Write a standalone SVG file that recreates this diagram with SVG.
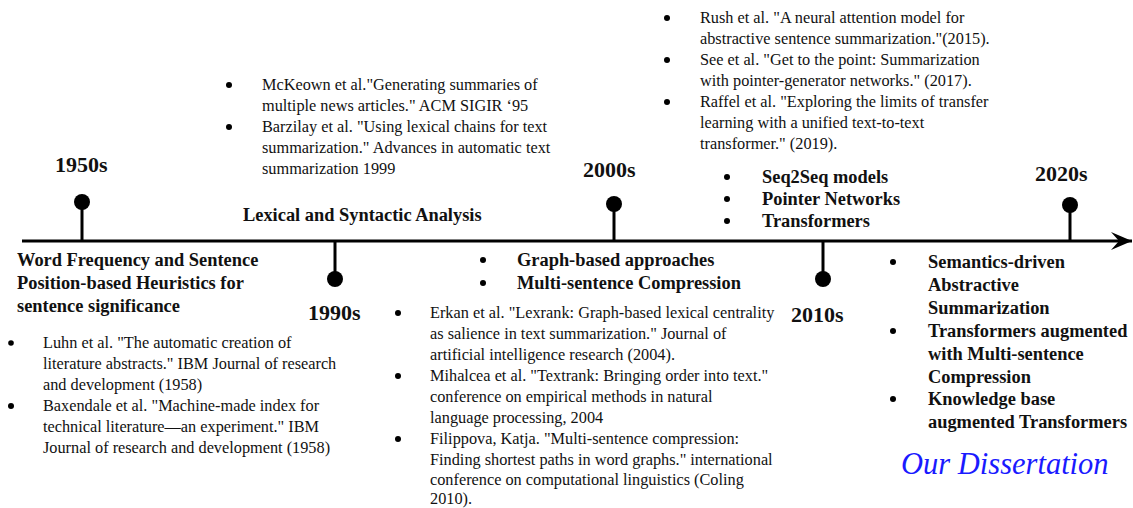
<svg xmlns="http://www.w3.org/2000/svg" width="1133" height="508" viewBox="0 0 1133 508">
  <style>
    text { font-family: "Liberation Serif", "DejaVu Serif", serif; fill: #111; }
    .era { font-size: 22px; font-weight: bold; }
    .head { font-size: 18.4px; font-weight: bold; }
    .ref { font-size: 16.3px; }
    .dot { fill: #000; }
    .stem { stroke: #000; stroke-width: 3; }
    .note { font-family: "Liberation Serif", serif; font-size: 30.5px; font-style: italic; fill: #1a1aff; }
  </style>
  <defs>
    <marker id="arrow" markerUnits="userSpaceOnUse" viewBox="0 0 22 18" refX="21" refY="9" markerWidth="22" markerHeight="18" orient="auto">
      <path d="M0,0 L21,9 L0,18 L8,9 Z" fill="#000"/>
    </marker>
  </defs>

  <!-- timeline axis -->
  <g id="connectors">
    <line x1="22" y1="241" x2="1132" y2="241" stroke="#000" stroke-width="3" marker-end="url(#arrow)"/>
  </g>

  <!-- 1950s -->
  <g id="era-1950s">
    <line class="stem" x1="82" y1="205" x2="82" y2="241"/>
    <circle class="dot" cx="82" cy="202" r="8"/>
    <text class="era" x="55" y="172">1950s</text>
    <text class="head" x="17" y="266">Word Frequency and Sentence</text>
    <text class="head" x="17" y="289">Position-based Heuristics for</text>
    <text class="head" x="17" y="312">sentence significance</text>
    <circle class="dot" cx="11" cy="343" r="2.8"/>
    <text class="ref" x="43" y="348">Luhn et al. "The automatic creation of</text>
    <text class="ref" x="43" y="369">literature abstracts." IBM Journal of research</text>
    <text class="ref" x="43" y="390">and development (1958)</text>
    <circle class="dot" cx="11" cy="406" r="3"/>
    <text class="ref" x="43" y="411">Baxendale et al. "Machine-made index for</text>
    <text class="ref" x="43" y="432">technical literature—an experiment." IBM</text>
    <text class="ref" x="43" y="453">Journal of research and development (1958)</text>
  </g>

  <!-- 1990s -->
  <g id="era-1990s">
    <line class="stem" x1="335" y1="241" x2="335" y2="277"/>
    <circle class="dot" cx="335" cy="279" r="8"/>
    <text class="era" x="308" y="320">1990s</text>
    <text class="head" x="243" y="221">Lexical and Syntactic Analysis</text>
    <circle class="dot" cx="229" cy="85" r="3"/>
    <text class="ref" x="262" y="90">McKeown et al."Generating summaries of</text>
    <text class="ref" x="262" y="111">multiple news articles."  ACM SIGIR ‘95</text>
    <circle class="dot" cx="229" cy="127" r="3"/>
    <text class="ref" x="262" y="132">Barzilay et al. "Using lexical chains for text</text>
    <text class="ref" x="262" y="153">summarization." Advances in automatic text</text>
    <text class="ref" x="262" y="174">summarization 1999</text>
  </g>

  <!-- 2000s -->
  <g id="era-2000s">
    <line class="stem" x1="614" y1="206" x2="614" y2="241"/>
    <circle class="dot" cx="614" cy="204" r="8"/>
    <text class="era" x="583" y="177">2000s</text>
    <circle class="dot" cx="483" cy="260" r="3"/>
    <text class="head" x="517" y="266">Graph-based approaches</text>
    <circle class="dot" cx="483" cy="283" r="3"/>
    <text class="head" x="517" y="289">Multi-sentence Compression</text>
    <circle class="dot" cx="398" cy="313" r="3"/>
    <text class="ref" x="430" y="318">Erkan et al. "Lexrank: Graph-based lexical centrality</text>
    <text class="ref" x="430" y="339">as salience in text summarization." Journal of</text>
    <text class="ref" x="430" y="360">artificial intelligence research (2004).</text>
    <circle class="dot" cx="398" cy="376" r="3"/>
    <text class="ref" x="430" y="381">Mihalcea et al. "Textrank: Bringing order into text."</text>
    <text class="ref" x="430" y="402">conference on empirical methods in natural</text>
    <text class="ref" x="430" y="423">language processing, 2004</text>
    <circle class="dot" cx="398" cy="439" r="3"/>
    <text class="ref" x="430" y="444">Filippova, Katja. "Multi-sentence compression:</text>
    <text class="ref" x="430" y="465">Finding shortest paths in word graphs." international</text>
    <text class="ref" x="430" y="485">conference on computational linguistics (Coling</text>
    <text class="ref" x="430" y="504">2010).</text>
  </g>

  <!-- 2010s -->
  <g id="era-2010s">
    <line class="stem" x1="823" y1="241" x2="823" y2="277"/>
    <circle class="dot" cx="823" cy="279" r="8"/>
    <text class="era" x="791" y="322">2010s</text>
    <circle class="dot" cx="667" cy="18" r="3"/>
    <text class="ref" x="700" y="23">Rush et al. "A neural attention model for</text>
    <text class="ref" x="700" y="44">abstractive sentence summarization."(2015).</text>
    <circle class="dot" cx="667" cy="60" r="3"/>
    <text class="ref" x="700" y="65">See et al. "Get to the point: Summarization</text>
    <text class="ref" x="700" y="86">with pointer-generator networks." (2017).</text>
    <circle class="dot" cx="667" cy="102" r="3"/>
    <text class="ref" x="700" y="107">Raffel et al. "Exploring the limits of transfer</text>
    <text class="ref" x="700" y="128">learning with a unified text-to-text</text>
    <text class="ref" x="700" y="149">transformer." (2019).</text>
    <circle class="dot" cx="727" cy="177" r="3"/>
    <text class="head" x="762" y="183">Seq2Seq models</text>
    <circle class="dot" cx="727" cy="199" r="3"/>
    <text class="head" x="762" y="205">Pointer Networks</text>
    <circle class="dot" cx="727" cy="221" r="3"/>
    <text class="head" x="762" y="227">Transformers</text>
  </g>

  <!-- 2020s -->
  <g id="era-2020s">
    <line class="stem" x1="1070" y1="207" x2="1070" y2="241"/>
    <circle class="dot" cx="1070" cy="205" r="8"/>
    <text class="era" x="1035" y="181">2020s</text>
    <circle class="dot" cx="893" cy="262" r="3"/>
    <text class="head" x="928" y="268">Semantics-driven</text>
    <text class="head" x="928" y="291">Abstractive</text>
    <text class="head" x="928" y="314">Summarization</text>
    <circle class="dot" cx="893" cy="331" r="3"/>
    <text class="head" x="928" y="337">Transformers augmented</text>
    <text class="head" x="928" y="360">with Multi-sentence</text>
    <text class="head" x="928" y="383">Compression</text>
    <circle class="dot" cx="893" cy="399" r="3"/>
    <text class="head" x="928" y="405">Knowledge base</text>
    <text class="head" x="928" y="428">augmented Transformers</text>
    <text class="note" x="901" y="474">Our Dissertation</text>
  </g>
</svg>
